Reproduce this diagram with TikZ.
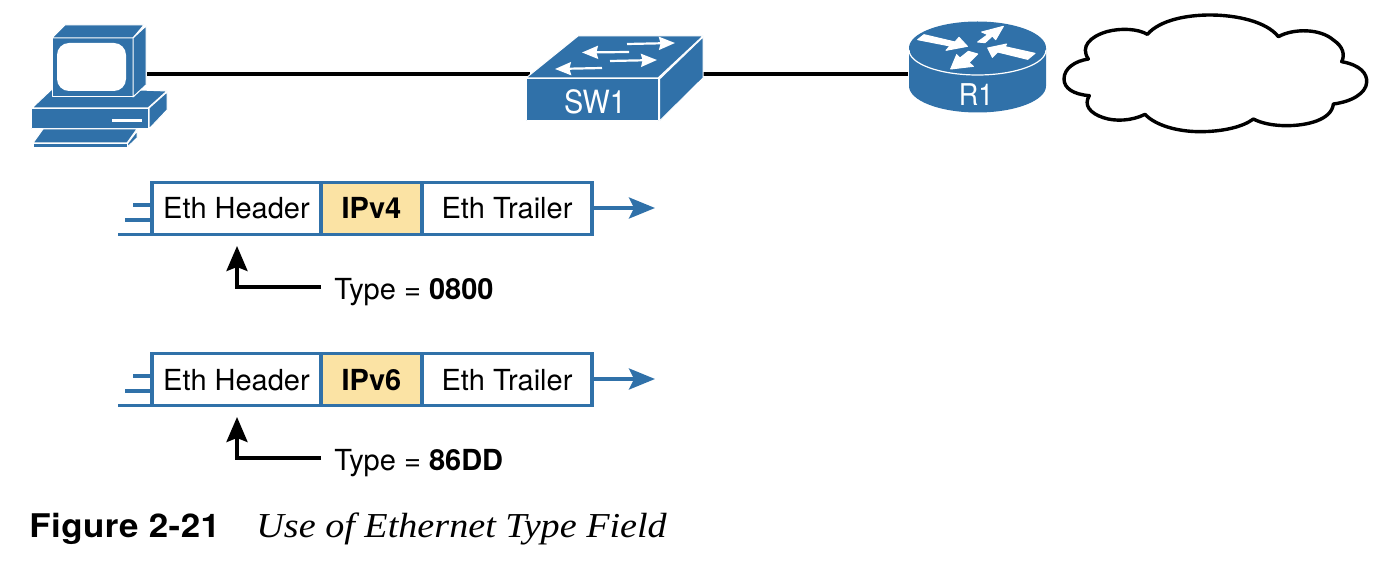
\documentclass[tikz,border=0pt]{standalone}
\usepackage{fontspec}
\setmainfont{TeX Gyre Heros}
\newfontfamily\capserif[FakeStretch=1.09]{Liberation Serif}
\newfontfamily\figfont[FakeStretch=1.07,LetterSpace=1.5]{TeX Gyre Heros}
\newfontfamily\swfont[FakeStretch=0.9]{TeX Gyre Heros}
\usetikzlibrary{arrows.meta}
\definecolor{netblue}{HTML}{3071A9}
\definecolor{payload}{HTML}{FBE3A4}
\tikzset{
  icon/.style={fill=netblue,draw=white,line width=0.5pt,line join=round},
  cable/.style={draw=black,line width=2pt},
  cell/.style={draw=netblue,line width=1.75pt,fill=white,minimum height=26pt,inner sep=0pt,text height=10.5pt,text depth=0pt,font=\fontsize{14.5}{16}\selectfont},
  stub/.style={draw=netblue,line width=1.6pt},
  flow/.style={draw=netblue,line width=1.75pt,-{Stealth[length=13pt,width=10.5pt,inset=2.5pt]}},
  pointer/.style={draw=black,line width=1.8pt,-{Stealth[length=12.5pt,width=10.5pt,inset=2pt]}},
  typelabel/.style={anchor=base west,inner sep=0pt,font=\fontsize{14.5}{16}\selectfont},
  swarrow/.style={draw=white,line width=1.1pt,-{Stealth[length=8pt,width=6.5pt,inset=0.8pt]}},
  rarrow/.style={fill=white,draw=white,line width=0.5pt,line join=round},
}
\begin{document}
\begin{tikzpicture}[x=0.5pt,y=-0.5pt]
\useasboundingbox (0,0) rectangle (1396,572);
% cables
\coordinate (pcport) at (147,74);
\coordinate (swleft) at (530,74);
\coordinate (swright) at (700,74);
\coordinate (rport) at (908,74);
\draw[cable] (pcport) -- (swleft);
\draw[cable] (swright) -- (rport);
% PC
\path[icon] (51,90) -- (32,108) -- (148,108) -- (167,91) -- (140,90) -- cycle;
\path[icon] (31,108.5) rectangle (148,129);
\path[icon] (149,108) -- (167,92) -- (167,110) -- (149,129) -- cycle;
\fill[white] (112,119) rectangle (142,122);
\path[icon] (33,143) -- (43,129) -- (137,129) -- (127,143) -- cycle;
\path[icon] (33,144) rectangle (127,147.5);
\path[icon] (127.5,147) -- (137,138) -- (137,131) -- (127.5,143.5) -- cycle;
\path[icon] (52,38) rectangle (133,97);
\path[icon] (52,38) -- (65,25) -- (144,25) -- (133,38) -- cycle;
\path[icon] (133,38) -- (146,26) -- (146,85) -- (133,97) -- cycle;
\fill[white,rounded corners=6pt] (57,43) rectangle (126,91);
% switch
\path[icon] (526,78) -- (578,36) -- (703,36) -- (658,78) -- cycle;
\path[icon] (526,79) rectangle (658.5,121);
\path[icon] (659.5,79) -- (703,37) -- (703,78) -- (659.5,121) -- cycle;
\draw[swarrow] (627,44) -- (675,43);
\draw[swarrow] (629,52) -- (582,52.5);
\draw[swarrow] (610,61) -- (657,60);
\draw[swarrow] (602,68) -- (555,69);
\node[text=white,inner sep=0pt,anchor=base,font=\swfont\fontsize{16}{18}\selectfont] (sw1) at (595,114) {SW1};
% router
\fill[netblue] (909,48) -- (909,86) arc[start angle=180,end angle=0,x radius=68.5,y radius=26.5] -- (1046,48) arc[start angle=0,end angle=-180,x radius=68.5,y radius=26.5] -- cycle;
\draw[white,line width=0.6pt] (909,50) arc[start angle=180,end angle=0,x radius=68.5,y radius=25];
\begin{scope}[shift={(905,18)},x=0.16667pt,y=-0.16667pt]
\path[rarrow] (38,65) -- (57,50) -- (150,72) -- (162,58) -- (187,85) -- (123,97) -- (135,84) -- cycle;
\path[rarrow] (218,72) -- (248,50) -- (230,42) -- (295,25) -- (272,65) -- (262,54) -- (240,74) -- cycle;
\path[rarrow] (390,106) -- (300,86) -- (305,78) -- (248,90) -- (262,118) -- (278,102) -- (368,124) -- cycle;
\path[rarrow] (190,100) -- (165,120) -- (155,110) -- (137,153) -- (205,145) -- (192,134) -- (218,108) -- cycle;
\end{scope}
\node[text=white,inner sep=0pt,anchor=base,font=\swfont\fontsize{15}{16}\selectfont] (r1) at (976,105.5) {R1};
% cloud
\begin{scope}[shift={(890,5)},x=0.16667pt,y=-0.16667pt]
\draw[black,line width=1.7pt,fill=white,line join=round]
  (772,88) .. controls (810,45) and (890,30) .. (960,30)
  .. controls (1040,30) and (1130,50) .. (1165,95)
  .. controls (1210,70) and (1290,70) .. (1330,105)
  .. controls (1360,125) and (1365,150) .. (1355,170)
  .. controls (1410,180) and (1432,205) .. (1430,232)
  .. controls (1428,265) and (1385,290) .. (1330,297)
  .. controls (1325,345) and (1250,362) .. (1190,362)
  .. controls (1150,362) and (1115,355) .. (1090,342)
  .. controls (1060,365) and (1000,380) .. (930,380)
  .. controls (860,380) and (795,360) .. (765,328)
  .. controls (725,348) and (675,350) .. (640,338)
  .. controls (600,325) and (580,300) .. (598,272)
  .. controls (550,268) and (522,250) .. (522,222)
  .. controls (522,190) and (555,168) .. (595,162)
  .. controls (570,125) and (600,95) .. (650,80)
  .. controls (695,68) and (745,72) .. (772,88) -- cycle;
\end{scope}
% frame 1
\coordinate (s1a) at (133,205); \coordinate (s1b) at (125,220); \coordinate (s1c) at (118,234.5);
\node[cell,minimum width=84.5pt] (h1) at (236.5,208.5) {Eth Header};
\node[cell,minimum width=50.5pt,fill=payload,font=\fontsize{14.5}{16}\selectfont\bfseries] (p1) at (371.5,208.5) {IPv4};
\node[cell,minimum width=85pt] (t1) at (507,208.5) {Eth Trailer};
\draw[stub] (s1a) -- (s1a -| h1.west);
\draw[stub] (s1b) -- (s1b -| h1.west);
\draw[stub] (s1c) -- (s1c -| h1.west);
\coordinate (e1) at (655,208);
\draw[flow] (t1.east |- e1) -- (e1);
\node[typelabel] (l1) at (334,299) {Type = \textbf{0800}};
\coordinate (u1) at (237,246);
\coordinate (b1) at (321,287);
\draw[pointer] (b1) -| (u1);
% frame 2
\coordinate (s2a) at (133,376); \coordinate (s2b) at (125,391); \coordinate (s2c) at (118,405.5);
\node[cell,minimum width=84.5pt] (h2) at (236.5,379.5) {Eth Header};
\node[cell,minimum width=50.5pt,fill=payload,font=\fontsize{14.5}{16}\selectfont\bfseries] (p2) at (371.5,379.5) {IPv6};
\node[cell,minimum width=85pt] (t2) at (507,379.5) {Eth Trailer};
\draw[stub] (s2a) -- (s2a -| h2.west);
\draw[stub] (s2b) -- (s2b -| h2.west);
\draw[stub] (s2c) -- (s2c -| h2.west);
\coordinate (e2) at (655,379);
\draw[flow] (t2.east |- e2) -- (e2);
\node[typelabel] (l2) at (334,470) {Type = \textbf{86DD}};
\coordinate (u2) at (237,417);
\coordinate (b2) at (321,458);
\draw[pointer] (b2) -| (u2);
% caption
\node[anchor=base west,inner sep=0pt,font=\figfont\fontsize{16.3}{18}\selectfont\bfseries] (figno) at (29,537) {Figure 2-21};
\node[anchor=base west,inner sep=0pt,font=\capserif\itshape\fontsize{17.5}{20}\selectfont] (figcap) at (256,537) {Use of Ethernet Type Field};
\end{tikzpicture}
\end{document}
